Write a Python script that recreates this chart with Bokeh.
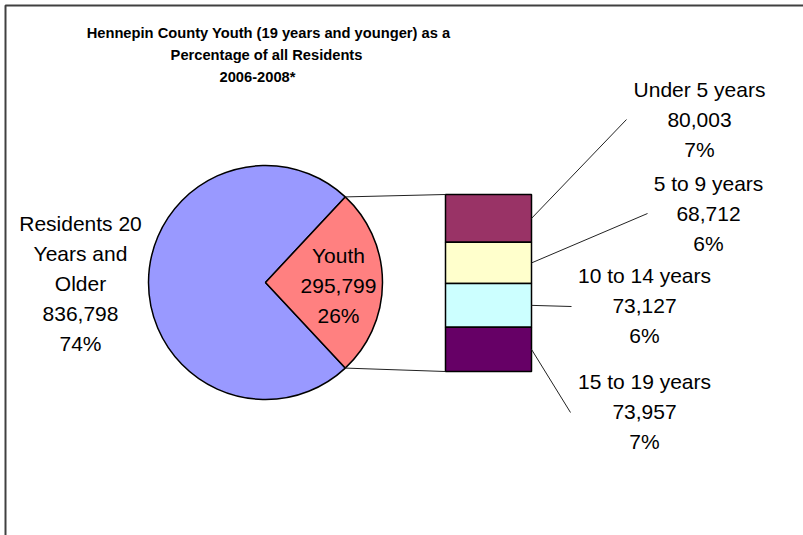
import math
from bokeh.plotting import figure
from bokeh.models import Range1d
from bokeh.embed import file_html
from bokeh.resources import INLINE
from bokeh.core.properties import value

# ---------------- data ----------------
title_lines = ["Hennepin County Youth (19 years and younger) as a",
               "Percentage of all Residents",
               "2006-2008*"]
group_label_lines = [["Residents 20", "Years and", "Older"], ["Youth"]]
group_values = [836798, 295799]
group_pcts = ["74%", "26%"]

age_groups = ["Under 5 years", "5 to 9 years", "10 to 14 years", "15 to 19 years"]
age_values = [80003, 68712, 73127, 73957]
age_pcts = ["7%", "6%", "6%", "7%"]

# ---------------- styles / layout ----------------
group_colors = ["#9999FF", "#FF8080"]
age_colors = ["#993366", "#FFFFCC", "#CCFFFF", "#660066"]
FONT = value("Liberation Sans")
LABEL_SIZE = "21px"
LINE_STEP = 30

PAGE_W, PAGE_H = 803, 535
def Y(py):
    return PAGE_H - py

p = figure(width=PAGE_W, height=PAGE_H, x_range=Range1d(0, PAGE_W), y_range=Range1d(0, PAGE_H),
           output_backend="svg", toolbar_location=None, min_border=0,
           x_axis_location=None, y_axis_location=None)
p.grid.visible = False
p.outline_line_color = None
p.background_fill_color = "white"
p.border_fill_color = "white"

# chart border (left and top edges visible)
p.line([5, 5, 803], [Y(535), Y(5), Y(5)], line_color="#404040", line_width=2)

# ---------------- pie ----------------
cx, cy, r = 265, Y(282), 117
total = sum(group_values)
youth_ang = 2 * math.pi * group_values[1] / total
starts = [youth_ang / 2, -youth_ang / 2]
ends = [2 * math.pi - youth_ang / 2, youth_ang / 2]
p.wedge(x=[cx, cx], y=[cy, cy], radius=r, start_angle=starts, end_angle=ends,
        fill_color=group_colors, line_color="black", line_width=1.5)

# ---------------- bar of pie ----------------
bar_left, bar_right, bar_top, bar_h = 445, 531, 194, 177
scale = bar_h / group_values[1]
tops, bottoms, mids = [], [], []
cur = bar_top
for v in age_values:
    tops.append(Y(cur))
    cur += v * scale
    bottoms.append(Y(cur))
    mids.append((tops[-1] + bottoms[-1]) / 2)
p.quad(left=bar_left, right=bar_right, top=tops, bottom=bottoms,
       fill_color=age_colors, line_color="black", line_width=1.5)

# connectors pie -> bar
ex = cx + r * math.cos(youth_ang / 2)
ey_top = cy + r * math.sin(youth_ang / 2)
ey_bot = cy - r * math.sin(youth_ang / 2)
p.segment(x0=[ex, ex], y0=[ey_top, ey_bot], x1=[bar_left, bar_left], y1=[tops[0], bottoms[-1]],
          line_color="#222222", line_width=1)

# leader lines and labels for age groups
label_pos = [(699, 89), (708, 183), (644, 275), (644, 381)]
leader_end = [(626, 119), (647, 213), (571, 306), (570, 412)]
p.segment(x0=[bar_right] * 4, y0=mids,
          x1=[e[0] for e in leader_end], y1=[Y(e[1]) for e in leader_end],
          line_color="#222222", line_width=1)

tx, ty, tt = [], [], []
for (lx, ly), name, v, pct in zip(label_pos, age_groups, age_values, age_pcts):
    for i, s in enumerate([name, f"{v:,}", pct]):
        tx.append(lx); ty.append(Y(ly + i * LINE_STEP)); tt.append(s)

# pie labels
pie_label_pos = [(80, 223), (338, 255)]
for (lx, ly), lines, v, pct in zip(pie_label_pos, group_label_lines, group_values, group_pcts):
    for i, s in enumerate(lines + [f"{v:,}", pct]):
        tx.append(lx); ty.append(Y(ly + i * LINE_STEP)); tt.append(s)

p.text(x=tx, y=ty, text=tt, text_font=FONT, text_font_size=LABEL_SIZE,
       text_align="center", text_baseline="middle", text_color="black")

# title
title_pos = [(268, 32), (266, 54), (257, 76)]
p.text(x=[t[0] for t in title_pos], y=[Y(t[1]) for t in title_pos], text=title_lines,
       text_font=FONT, text_font_size="14.7px", text_font_style="bold",
       text_align="center", text_baseline="middle", text_color="black")

open("out.html", "w").write(file_html(p, INLINE))
